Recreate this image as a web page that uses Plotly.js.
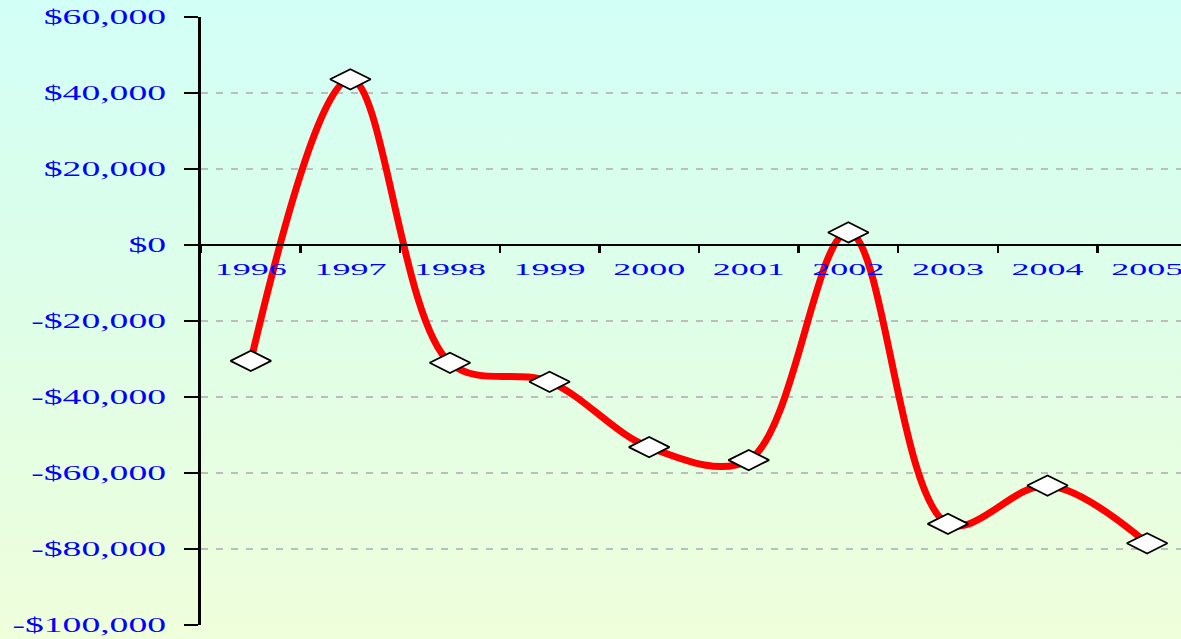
<!DOCTYPE html>
<html>
<head>
<meta charset="utf-8">
<script src="https://cdn.plot.ly/plotly-3.0.1.min.js"></script>
<style>
html, body { margin: 0; padding: 0; }
#chart {
  width: 1181px; height: 639px;
  background: linear-gradient(to bottom, #d2fff6 0%, #dcfeea 40%, #effedb 100%);
}
</style>
</head>
<body>
<div id="chart"></div>
<script>
// ---- data ----
const years = ['1996', '1997', '1998', '1999', '2000', '2001', '2002', '2003', '2004', '2005'];
const values = [-30500, 43600, -31000, -36000, -53200, -56600, 3300, -73400, -63300, -78500];
const yTickVals = [60000, 40000, 20000, 0, -20000, -40000, -60000, -80000, -100000];
const yTickText = ['$60,000', '$40,000', '$20,000', '$0', '-$20,000', '-$40,000', '-$60,000', '-$80,000', '-$100,000'];

const labelFont = { family: 'Liberation Serif, Times New Roman, serif', color: '#0000ff' };

const trace = {
  x: years,
  y: values,
  type: 'scatter',
  mode: 'lines+markers',
  line: { color: '#ff0000', width: 7, shape: 'spline', smoothing: 1 },
  marker: { symbol: 'diamond-wide', size: 29, color: '#ffffff', line: { color: '#000000', width: 1.8 } },
  hoverinfo: 'skip'
};

const layout = {
  width: 1181, height: 639,
  margin: { l: 201, r: 0, t: 17, b: 14 },
  paper_bgcolor: 'rgba(0,0,0,0)',
  plot_bgcolor: 'rgba(0,0,0,0)',
  showlegend: false,
  xaxis: {
    type: 'category',
    categoryorder: 'array', categoryarray: years,
    range: [-0.5, 9.34],
    anchor: 'free', position: 0.625,
    showline: true, linecolor: '#000000', linewidth: 2,
    showgrid: false, zeroline: false,
    ticks: 'outside', ticklen: 7, tickwidth: 2.5, tickcolor: '#000000',
    tickson: 'boundaries',
    tickfont: Object.assign({ size: 16 }, labelFont),
    ticklabelstandoff: 10,
    automargin: false
  },
  xaxis2: {
    type: 'linear',
    overlaying: 'x',
    range: [-0.5, 9.34],
    anchor: 'free', position: 0.625,
    tick0: 0.5, dtick: 1,
    ticks: 'inside', ticklen: 5, tickwidth: 2.5, tickcolor: '#000000',
    showticklabels: false, showline: false, showgrid: false, zeroline: false
  },
  yaxis: {
    range: [-100000, 60000],
    tickvals: yTickVals, ticktext: yTickText,
    showline: true, linecolor: '#000000', linewidth: 3,
    ticks: 'outside', ticklen: 14, tickwidth: 2, tickcolor: '#000000',
    showgrid: true, gridcolor: '#bdbdbd', gridwidth: 1.5, griddash: '7px,8px',
    zeroline: false,
    tickfont: Object.assign({ size: 20 }, labelFont),
    ticklabelstandoff: 14,
    automargin: false
  }
};

function stretchLabels() {
  document.querySelectorAll('.xtick text').forEach(t => {
    const w = t.getComputedTextLength();
    t.setAttribute('textLength', (w * 2.25).toFixed(1));
    t.setAttribute('lengthAdjust', 'spacingAndGlyphs');
  });
  document.querySelectorAll('.ytick text').forEach(t => {
    const w = t.getComputedTextLength();
    t.setAttribute('textLength', (w * 1.88).toFixed(1));
    t.setAttribute('lengthAdjust', 'spacingAndGlyphs');
  });
}

Plotly.newPlot('chart', [trace], layout, { displayModeBar: false, staticPlot: true }).then(stretchLabels);
</script>
</body>
</html>
